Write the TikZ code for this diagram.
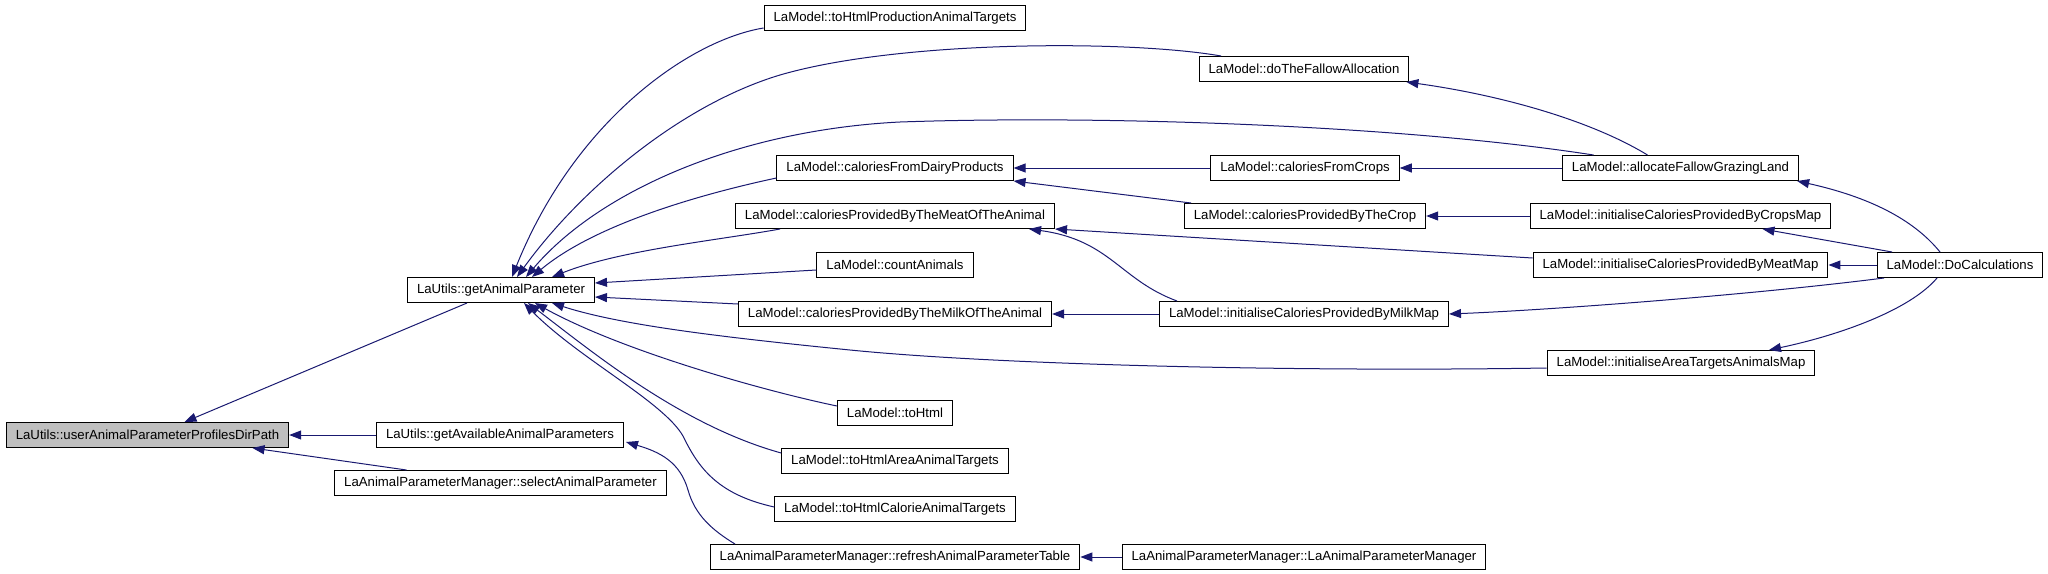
\documentclass[tikz,border=0pt]{standalone}
\usepackage{fontspec}
\setmainfont{Liberation Sans}
\usetikzlibrary{arrows.meta, calc}
\definecolor{callBlue}{RGB}{25,25,112}
\definecolor{focusGrey}{RGB}{191,191,191}

\begin{document}
\begin{tikzpicture}[x=0.5pt, y=-0.5pt,
        fn/.style={draw, line width=0.5pt, minimum height=12.5pt, inner xsep=4.75pt, inner ysep=0pt, font=\fontsize{6.6}{8}\selectfont},
        call/.style={callBlue, line width=0.5pt, -{Triangle[length=6pt, width=4.5pt]}}]
        \useasboundingbox (0,0) rectangle (2048,573);
        \node[fn, fill=focusGrey] (userDir) at (147.5,435) {LaUtils::userAnimalParameterProfilesDirPath};
        \node[fn] (getAP) at (501,290) {LaUtils::getAnimalParameter};
        \node[fn] (getAvail) at (500,435) {LaUtils::getAvailableAnimalParameters};
        \node[fn] (select) at (500.5,483) {LaAnimalParameterManager::selectAnimalParameter};
        \node[fn] (prod) at (895,18) {LaModel::toHtmlProductionAnimalTargets};
        \node[fn] (dairy) at (895,168) {LaModel::caloriesFromDairyProducts};
        \node[fn] (meat) at (895,216) {LaModel::caloriesProvidedByTheMeatOfTheAnimal};
        \node[fn] (count) at (895,265) {LaModel::countAnimals};
        \node[fn] (milk) at (895,314) {LaModel::caloriesProvidedByTheMilkOfTheAnimal};
        \node[fn] (tohtml) at (895,413) {LaModel::toHtml};
        \node[fn] (htmlArea) at (895,461) {LaModel::toHtmlAreaAnimalTargets};
        \node[fn] (htmlCalorie) at (895,509) {LaModel::toHtmlCalorieAnimalTargets};
        \node[fn] (refresh) at (895,557) {LaAnimalParameterManager::refreshAnimalParameterTable};
        \node[fn] (fallow) at (1304,69) {LaModel::doTheFallowAllocation};
        \node[fn] (fromCrops) at (1305,168) {LaModel::caloriesFromCrops};
        \node[fn] (byCrop) at (1305,216) {LaModel::caloriesProvidedByTheCrop};
        \node[fn] (milkMap) at (1304,314) {LaModel::initialiseCaloriesProvidedByMilkMap};
        \node[fn] (apmCtor) at (1304,557) {LaAnimalParameterManager::LaAnimalParameterManager};
        \node[fn] (allocate) at (1680.5,168) {LaModel::allocateFallowGrazingLand};
        \node[fn] (cropsMap) at (1680.5,216) {LaModel::initialiseCaloriesProvidedByCropsMap};
        \node[fn] (meatMap) at (1680.5,265) {LaModel::initialiseCaloriesProvidedByMeatMap};
        \node[fn] (areaMap) at (1681,363) {LaModel::initialiseAreaTargetsAnimalsMap};
        \node[fn] (doCalc) at (1960,265) {LaModel::DoCalculations};

        \draw[call] (getAvail.west) -- (userDir.east);
        \draw[call] ($(getAP.south)+(-34,0)$) -- ($(userDir.north)+(37,0)$);
        \draw[call] ($(select.north)+(-94,0)$) -- ($(userDir.south)+(105,0)$);
        \draw[call] ($(refresh.north)+(-160,0)$) .. controls (712,530) and (695,515) .. (688,490) .. controls (680,462) and (660,452) .. ($(getAvail.east)+(2,7)$);
        \draw[call] (apmCtor.west) -- (refresh.east);
        \draw[call] ($(prod.west)+(0,10)$) .. controls (690,40) and (575,120) .. ($(getAP.north)+(11,0)$);
        \draw[call] ($(fallow.north)+(-83,0)$) .. controls (1130,40) and (900,40) .. (780,75) .. controls (680,105) and (580,190) .. ($(getAP.north)+(16,0)$);
        \draw[call] ($(allocate.north)+(-87,0)$) .. controls (1400,125) and (1100,115) .. (900,122) .. controls (740,130) and (600,190) .. ($(getAP.north)+(25,0)$);
        \draw[call] ($(dairy.west)+(0,10)$) .. controls (720,190) and (600,220) .. ($(getAP.north)+(31,0)$);
        \draw[call] ($(meat.south)+(-115,0)$) .. controls (720,240) and (620,250) .. ($(getAP.north)+(51,0)$);
        \draw[call] ($(count.west)+(0,5)$) -- ($(getAP.east)+(0,-7)$);
        \draw[call] ($(milk.west)+(0,-10)$) -- ($(getAP.east)+(0,7)$);
        \draw[call] ($(tohtml.west)+(0,-7)$) .. controls (760,390) and (620,350) .. ($(getAP.south)+(34,0)$);
        \draw[call] ($(htmlArea.west)+(0,-8)$) .. controls (680,425) and (590,350) .. ($(getAP.south)+(27,0)$);
        \draw[call] ($(htmlCalorie.west)+(0,-2)$) .. controls (720,495) and (700,470) .. (685,440) .. controls (670,405) and (580,360) .. ($(getAP.south)+(23,0)$);
        \draw[call] ($(areaMap.west)+(0,5)$) .. controls (1300,372) and (1000,365) .. (850,350) .. controls (720,337) and (620,325) .. ($(getAP.south)+(51,0)$);
        \draw[call] (fromCrops.west) -- (dairy.east);
        \draw[call] ($(byCrop.north)+(-114,0)$) -- (dairy.south east);
        \draw[call] (cropsMap.west) -- (byCrop.east);
        \draw[call] (allocate.west) -- (fromCrops.east);
        \draw[call] ($(allocate.north)+(-33,0)$) .. controls (1590,120) and (1500,95) .. ($(fallow.south east)+(-3,0)$);
        \draw[call] ($(doCalc.north)+(-20,0)$) .. controls (1910,215) and (1860,195) .. ($(allocate.south east)+(-2,0)$);
        \draw[call] ($(doCalc.north)+(-68,0)$) -- ($(cropsMap.south)+(82,0)$);
        \draw[call] (doCalc.west) -- (meatMap.east);
        \draw[call] ($(doCalc.south)+(-76,0)$) .. controls (1750,295) and (1550,310) .. (milkMap.east);
        \draw[call] ($(doCalc.south)+(-23,0)$) .. controls (1910,310) and (1840,335) .. ($(areaMap.north)+(88,0)$);
        \draw[call] ($(meatMap.west)+(0,-7)$) -- (meat.south east);
        \draw[call] ($(milkMap.north)+(-127,0)$) .. controls (1120,280) and (1110,240) .. ($(meat.south)+(134,0)$);
        \draw[call] (milkMap.west) -- (milk.east);
      \end{tikzpicture}
\end{document}
